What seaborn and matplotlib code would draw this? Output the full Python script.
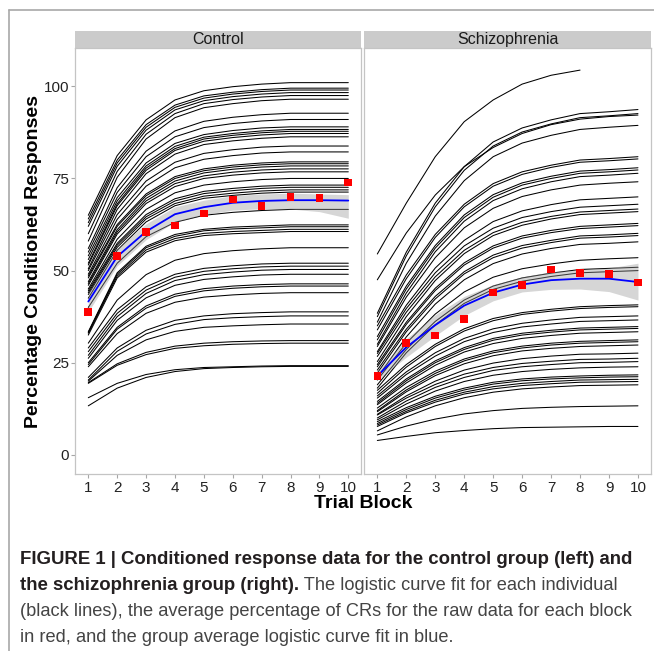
import numpy as np
import pandas as pd
import matplotlib
matplotlib.use("Agg")
import matplotlib.pyplot as plt
import seaborn as sns
from matplotlib.lines import Line2D
from matplotlib.patches import Rectangle

sns.set_theme(style="white")
plt.rcParams["font.family"] = ["Liberation Sans", "DejaVu Sans"]

blocks = list(range(1, 11))
groups = ["Control", "Schizophrenia"]

# individual logistic fits, one row per subject, value per trial block
control_curves = [
    [65.0, 81.2, 90.9, 96.3, 98.8, 99.9, 100.6, 101.0, 101.0, 101.0],
    [64.0, 80.0, 89.6, 94.9, 97.4, 98.4, 99.1, 99.5, 99.5, 99.5],
    [63.0, 79.2, 88.9, 94.3, 96.8, 97.9, 98.6, 99.0, 99.0, 99.0],
    [62.0, 78.3, 88.1, 93.6, 96.1, 97.2, 97.9, 98.3, 98.3, 98.3],
    [60.0, 76.9, 87.0, 92.6, 95.3, 96.4, 97.1, 97.5, 97.5, 97.5],
    [58.0, 75.3, 85.7, 91.5, 94.2, 95.3, 96.1, 96.5, 96.5, 96.5],
    [56.0, 72.5, 82.4, 87.9, 90.5, 91.6, 92.3, 92.7, 92.7, 92.7],
    [55.0, 71.2, 80.9, 86.3, 88.8, 89.9, 90.6, 91.0, 91.0, 91.0],
    [54.0, 69.8, 79.2, 84.5, 86.9, 88.0, 88.7, 89.0, 89.0, 89.0],
    [53.0, 68.9, 78.4, 83.7, 86.2, 87.2, 87.9, 88.3, 88.3, 88.3],
    [52.0, 68.1, 77.8, 83.1, 85.7, 86.7, 87.4, 87.8, 87.8, 87.8],
    [51.5, 67.6, 77.2, 82.6, 85.1, 86.1, 86.8, 87.2, 87.2, 87.2],
    [50.5, 66.6, 76.3, 81.6, 84.2, 85.2, 85.9, 86.3, 86.3, 86.3],
    [50.0, 65.2, 74.3, 79.4, 81.8, 82.8, 83.5, 83.8, 83.8, 83.8],
    [49.0, 63.9, 72.9, 77.9, 80.2, 81.2, 81.9, 82.2, 82.2, 82.2],
    [48.5, 62.5, 70.8, 75.5, 77.6, 78.6, 79.2, 79.5, 79.5, 79.5],
    [48.0, 62.0, 70.3, 75.0, 77.1, 78.1, 78.7, 79.0, 79.0, 79.0],
    [47.0, 61.1, 69.6, 74.3, 76.5, 77.5, 78.1, 78.4, 78.4, 78.4],
    [46.5, 60.5, 68.9, 73.6, 75.7, 76.7, 77.3, 77.6, 77.6, 77.6],
    [46.0, 59.9, 68.2, 72.8, 75.0, 75.9, 76.5, 76.8, 76.8, 76.8],
    [45.0, 58.5, 66.6, 71.1, 73.2, 74.1, 74.7, 75.0, 75.0, 75.0],
    [44.5, 57.4, 65.2, 69.5, 71.5, 72.3, 72.9, 73.2, 73.2, 73.2],
    [44.0, 56.9, 64.6, 68.9, 70.9, 71.7, 72.3, 72.6, 72.6, 72.6],
    [43.5, 56.3, 64.0, 68.2, 70.2, 71.0, 71.6, 71.9, 71.9, 71.9],
    [42.5, 55.5, 63.2, 67.6, 69.6, 70.4, 71.0, 71.3, 71.3, 71.3],
    [40.0, 52.0, 59.2, 63.1, 65.0, 65.8, 66.3, 66.6, 66.6, 66.6],
    [33.4, 49.4, 56.6, 59.8, 61.2, 61.8, 62.1, 62.4, 62.4, 62.4],
    [33.2, 49.0, 56.2, 59.3, 60.8, 61.3, 61.6, 61.9, 61.9, 61.9],
    [33.0, 48.5, 55.6, 58.7, 60.1, 60.6, 60.9, 61.2, 61.2, 61.2],
    [32.5, 48.0, 55.0, 58.1, 59.5, 60.0, 60.3, 60.6, 60.6, 60.6],
    [30.3, 42.0, 48.9, 52.8, 54.6, 55.4, 55.9, 56.2, 56.2, 56.2],
    [29.0, 39.4, 45.6, 49.0, 50.6, 51.3, 51.8, 52.0, 52.0, 52.0],
    [28.0, 38.4, 44.7, 48.2, 49.8, 50.5, 51.0, 51.2, 51.2, 51.2],
    [27.0, 37.5, 43.8, 47.3, 48.9, 49.6, 50.1, 50.3, 50.3, 50.3],
    [26.2, 36.5, 42.6, 46.0, 47.6, 48.3, 48.8, 49.0, 49.0, 49.0],
    [25.0, 34.6, 40.4, 43.6, 45.1, 45.8, 46.2, 46.4, 46.4, 46.4],
    [24.5, 34.1, 39.8, 43.0, 44.5, 45.2, 45.6, 45.8, 45.8, 45.8],
    [23.9, 32.9, 38.4, 41.4, 42.8, 43.4, 43.8, 44.0, 44.0, 44.0],
    [21.0, 29.0, 33.8, 36.5, 37.7, 38.3, 38.6, 38.8, 38.8, 38.8],
    [20.3, 28.1, 32.8, 35.4, 36.7, 37.2, 37.5, 37.7, 37.7, 37.7],
    [20.0, 27.0, 31.2, 33.5, 34.6, 35.0, 35.3, 35.5, 35.5, 35.5],
    [19.6, 24.7, 27.8, 29.5, 30.3, 30.7, 30.9, 31.0, 31.0, 31.0],
    [19.4, 24.3, 27.2, 28.9, 29.6, 30.0, 30.2, 30.3, 30.3, 30.3],
    [15.5, 19.4, 21.8, 23.1, 23.7, 23.9, 24.1, 24.2, 24.2, 24.2],
    [13.3, 18.1, 21.0, 22.6, 23.4, 23.7, 23.9, 24.0, 24.0, 24.0],
]

schizo_curves = [
    [54.5, 68.3, 80.9, 90.4, 96.3, 100.6, 103.0, 104.4],
    [47.5, 60.2, 70.5, 78.2, 83.4, 87.2, 89.6, 91.1, 91.8, 92.2],
    [38.4, 55.0, 68.3, 78.2, 84.9, 88.7, 90.9, 92.6, 93.1, 93.7],
    [37.5, 54.0, 67.3, 77.2, 83.8, 87.6, 89.8, 91.5, 92.0, 92.6],
    [36.0, 52.0, 64.8, 74.4, 80.9, 84.6, 86.7, 88.3, 88.9, 89.4],
    [35.0, 48.8, 59.8, 68.0, 73.6, 76.8, 78.6, 80.0, 80.4, 80.9],
    [33.9, 47.8, 59.0, 67.3, 72.9, 76.1, 78.0, 79.4, 79.8, 80.3],
    [32.1, 45.8, 56.8, 65.1, 70.6, 73.8, 75.6, 77.0, 77.4, 77.9],
    [31.2, 45.0, 56.1, 64.4, 69.9, 73.2, 75.0, 76.4, 76.8, 77.3],
    [30.0, 43.9, 55.1, 63.4, 69.0, 72.2, 74.1, 75.5, 75.9, 76.4],
    [29.4, 42.8, 53.5, 61.6, 66.9, 70.1, 71.9, 73.2, 73.7, 74.1],
    [28.0, 40.6, 50.7, 58.2, 63.3, 66.2, 67.9, 69.2, 69.6, 70.0],
    [27.5, 39.7, 49.4, 56.7, 61.5, 64.4, 66.0, 67.2, 67.6, 68.0],
    [26.7, 38.7, 48.3, 55.5, 60.3, 63.1, 64.7, 65.9, 66.3, 66.7],
    [25.3, 37.5, 47.3, 54.6, 59.5, 62.3, 64.0, 65.2, 65.6, 66.0],
    [24.5, 36.0, 45.2, 52.1, 56.7, 59.4, 60.9, 62.0, 62.4, 62.8],
    [23.9, 35.4, 44.6, 51.5, 56.1, 58.8, 60.3, 61.4, 61.8, 62.2],
    [23.0, 34.1, 43.0, 49.7, 54.2, 56.8, 58.2, 59.4, 59.7, 60.1],
    [22.2, 33.4, 42.3, 49.1, 53.5, 56.1, 57.6, 58.8, 59.1, 59.5],
    [21.0, 32.0, 40.9, 47.5, 51.9, 54.5, 56.0, 57.1, 57.4, 57.8],
    [20.3, 30.3, 38.2, 44.2, 48.2, 50.5, 51.8, 52.8, 53.2, 53.5],
    [19.0, 28.6, 36.2, 42.0, 45.8, 48.0, 49.3, 50.3, 50.6, 50.9],
    [18.1, 27.7, 35.3, 41.1, 44.9, 47.1, 48.4, 49.4, 49.7, 50.0],
    [17.5, 24.5, 30.0, 34.2, 37.0, 38.6, 39.5, 40.2, 40.5, 40.7],
    [16.7, 23.8, 29.4, 33.6, 36.4, 38.1, 39.0, 39.7, 40.0, 40.2],
    [16.0, 22.5, 27.7, 31.6, 34.2, 35.7, 36.6, 37.3, 37.5, 37.7],
    [15.4, 21.8, 26.8, 30.7, 33.2, 34.7, 35.5, 36.2, 36.4, 36.6],
    [14.5, 20.6, 25.5, 29.1, 31.6, 33.0, 33.8, 34.4, 34.6, 34.8],
    [14.0, 20.1, 25.0, 28.6, 31.1, 32.5, 33.3, 33.9, 34.1, 34.3],
    [13.6, 19.5, 24.3, 27.9, 30.2, 31.6, 32.4, 33.0, 33.2, 33.4],
    [12.7, 18.3, 22.7, 26.0, 28.2, 29.5, 30.3, 30.8, 31.0, 31.2],
    [12.0, 17.6, 22.1, 25.5, 27.7, 29.0, 29.8, 30.3, 30.5, 30.7],
    [11.7, 17.1, 21.5, 24.7, 26.9, 28.2, 28.9, 29.4, 29.6, 29.8],
    [11.0, 16.0, 20.0, 23.0, 24.9, 26.1, 26.8, 27.3, 27.4, 27.6],
    [10.8, 15.4, 19.1, 21.9, 23.7, 24.8, 25.4, 25.9, 26.0, 26.2],
    [10.0, 14.6, 18.3, 21.0, 22.9, 23.9, 24.5, 25.0, 25.1, 25.3],
    [9.5, 13.8, 17.3, 19.9, 21.6, 22.6, 23.2, 23.6, 23.8, 23.9],
    [9.0, 12.8, 15.9, 18.1, 19.7, 20.6, 21.1, 21.4, 21.6, 21.7],
    [8.5, 12.3, 15.4, 17.6, 19.2, 20.1, 20.6, 20.9, 21.1, 21.2],
    [8.1, 11.8, 14.8, 17.0, 18.5, 19.4, 19.9, 20.3, 20.4, 20.5],
    [7.7, 11.4, 14.3, 16.5, 17.9, 18.8, 19.3, 19.7, 19.8, 19.9],
    [6.5, 10.3, 13.3, 15.5, 17.0, 17.9, 18.4, 18.8, 18.9, 19.0],
    [5.4, 7.8, 9.7, 11.1, 12.0, 12.6, 12.9, 13.1, 13.2, 13.3],
    [3.9, 5.0, 6.0, 6.6, 7.1, 7.4, 7.5, 7.6, 7.7, 7.7],
]

# raw block means (red) and group logistic fit with band (blue / grey)
control_raw_mean = [38.7, 54.0, 60.4, 62.2, 65.5, 69.3, 67.6, 69.9, 69.7, 73.9]
control_fit = [41.6, 53.8, 60.6, 65.3, 67.2, 68.4, 68.9, 69.1, 69.1, 69.0]
control_ci_low = [38.8, 51.3, 58.4, 63.2, 65.2, 66.4, 66.8, 66.7, 66.0, 64.2]
control_ci_high = [44.0, 56.0, 62.7, 67.3, 69.1, 70.3, 70.8, 71.0, 70.8, 70.6]

schizo_raw_mean = [21.4, 30.3, 32.4, 36.8, 44.1, 46.1, 50.3, 49.4, 49.0, 46.8]
schizo_fit = [21.4, 29.2, 35.2, 40.5, 44.0, 46.2, 47.4, 47.8, 47.8, 46.9]
schizo_ci_low = [20.3, 26.5, 32.3, 37.8, 41.8, 44.2, 44.9, 45.0, 44.3, 42.0]
schizo_ci_high = [22.6, 31.5, 38.0, 43.0, 46.2, 48.3, 49.7, 50.2, 50.7, 52.0]

y_ticks = [0, 25, 50, 75, 100]

rows = []
for grp, curves in zip(groups, [control_curves, schizo_curves]):
    for subj, vals in enumerate(curves):
        for b, v in zip(blocks, vals):
            rows.append((grp, subj, b, v))
indiv = pd.DataFrame(rows, columns=["group", "subject", "block", "pct"])

summary = {
    "Control": (control_raw_mean, control_fit, control_ci_low, control_ci_high),
    "Schizophrenia": (schizo_raw_mean, schizo_fit, schizo_ci_low, schizo_ci_high),
}

W, H = 654, 651
fig = plt.figure(figsize=(W / 100, H / 100), dpi=100)

panel_top, panel_bot = 48, 474
panels_x = [(75.3, 361.3), (364.3, 651.0)]
strip_h = 17

axes = []
for (x0, x1), grp in zip(panels_x, groups):
    ax = fig.add_axes([x0 / W, 1 - panel_bot / H, (x1 - x0) / W, (panel_bot - panel_top) / H])
    axes.append(ax)
    sub = indiv[indiv["group"] == grp]
    sns.lineplot(data=sub, x="block", y="pct", units="subject", estimator=None,
                 color="black", lw=0.75, ax=ax, legend=False)
    raw, fit, lo, hi = summary[grp]
    ax.fill_between(blocks, lo, hi, color="#999999", alpha=0.4, lw=0, zorder=3)
    sns.lineplot(x=blocks, y=fit, color="#0000ff", lw=1.3, ax=ax, zorder=4)
    sns.scatterplot(x=blocks, y=raw, marker="s", color="#ff0000", s=30,
                    edgecolor="none", ax=ax, zorder=5)

    ax.set_xlim(0.55, 10.45)
    ax.set_ylim(-5.2, 110.4)
    ax.set_xticks(blocks)
    ax.set_yticks(y_ticks)
    ax.set_xlabel("")
    ax.set_ylabel("")
    for sp in ax.spines.values():
        sp.set_color("#c4c4c4")
        sp.set_linewidth(0.9)
    ax.tick_params(axis="both", which="both", length=3, width=0.8, color="#a6a6a6",
                   labelsize=11, labelcolor="#222222", pad=1.5)
    ax.tick_params(axis="x", bottom=True, pad=2)
    ax.tick_params(axis="y", left=True)

    ax.add_patch(Rectangle((0, 1), 1, strip_h / (panel_bot - panel_top), transform=ax.transAxes,
                           clip_on=False, fc="#cbcbcb", ec="none"))
    ax.text(0.5, 1 + (strip_h / 2) / (panel_bot - panel_top), grp, transform=ax.transAxes,
            ha="center", va="center", fontsize=11.5, color="#1a1a1a")

axes[1].tick_params(axis="y", left=False, labelleft=False)

fig.text(363 / W, 1 - 503 / H, "Trial Block", ha="center", va="center",
         fontsize=14, fontweight="bold", color="black")
fig.text(33.5 / W, 1 - 262 / H, "Percentage Conditioned Responses", rotation=90,
         ha="center", va="center", fontsize=14, fontweight="bold", color="black")

# page frame
fig.add_artist(Line2D([9 / W, 1], [1 - 10 / H, 1 - 10 / H], color="#a8a8a8", lw=1.2))
fig.add_artist(Line2D([9 / W, 9 / W], [0, 1 - 10 / H], color="#a8a8a8", lw=1.2))

# caption
fig.canvas.draw()
renderer = fig.canvas.get_renderer()
cap_x = 20
bold_c, reg_c = "#231f20", "#444444"
line1 = "FIGURE 1 | Conditioned response data for the control group (left) and"
line2a = "the schizophrenia group (right)."
line2b = " The logistic curve fit for each individual"
line3 = "(black lines), the average percentage of CRs for the raw data for each block"
line4 = "in red, and the group average logistic curve fit in blue."
ys = [559, 585, 612, 637]

t1 = fig.text(cap_x / W, 1 - ys[0] / H, line1, fontsize=11, fontweight="bold",
              color=bold_c, va="center", ha="left")
w1 = t1.get_window_extent(renderer).width
bsize = 11 * 617 / w1
t1.set_fontsize(bsize)

t3 = fig.text(cap_x / W, 1 - ys[2] / H, line3, fontsize=11, color=reg_c, va="center", ha="left")
w3 = t3.get_window_extent(renderer).width
rsize = 11 * 612 / w3
t3.set_fontsize(rsize)

t2a = fig.text(cap_x / W, 1 - ys[1] / H, line2a, fontsize=bsize, fontweight="bold",
               color=bold_c, va="center", ha="left")
x_end = t2a.get_window_extent(renderer).x1
fig.text(x_end / W, 1 - ys[1] / H, line2b, fontsize=rsize, color=reg_c, va="center", ha="left")
fig.text(cap_x / W, 1 - ys[3] / H, line4, fontsize=rsize, color=reg_c, va="center", ha="left")

fig.savefig("out.png", dpi=100)
